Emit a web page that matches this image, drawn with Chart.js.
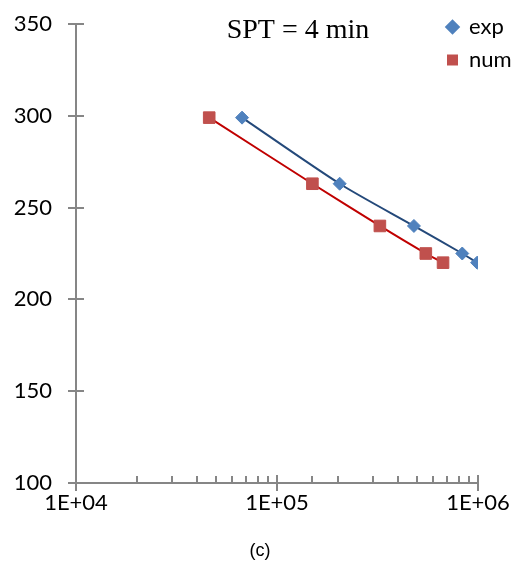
<!DOCTYPE html>
<html>
<head>
<meta charset="utf-8">
<script src="https://cdn.jsdelivr.net/npm/chart.js@4.4.1/dist/chart.umd.min.js"></script>
<style>
  html, body { margin: 0; padding: 0; background: #ffffff; }
  canvas { display: block; }
</style>
</head>
<body>
<canvas id="c" width="519" height="566"></canvas>
<script>
// ---- data ----
const expCycles = [67000, 205000, 480000, 835000, 990000];
const expStress = [299, 263, 240, 225, 220];
const numCycles = [46000, 150000, 325000, 550000, 670000];
const numStress = [299, 263, 240, 225, 220];
const seriesLabels = ['exp', 'num'];
const yTicks = [100, 150, 200, 250, 300, 350];
const xMajorTicks = [1e4, 1e5, 1e6];
const chartTitle = 'SPT = 4 min';
const caption = '(c)';

const AXIS = '#868686';
const FONT = 'Lato, "Open Sans", sans-serif';

function toPoints(xs, ys) { return xs.map((x, i) => ({ x: x, y: ys[i] })); }
function sciLabel(v) {
  const e = Math.round(Math.log10(v));
  return '1E+' + String(e).padStart(2, '0');
}
function isMajor(v) {
  const l = Math.log10(v);
  return Math.abs(l - Math.round(l)) < 1e-9;
}

const axisTicksPlugin = {
  id: 'axisTicks',
  beforeDatasetsDraw(chart) {
    const ctx = chart.ctx;
    const xs = chart.scales.x, ys = chart.scales.y;
    const area = chart.chartArea;
    ctx.save();
    ctx.strokeStyle = AXIS;
    ctx.lineWidth = 2;
    ctx.beginPath();
    xs.ticks.forEach(t => {
      const px = Math.round(xs.getPixelForValue(t.value));
      if (isMajor(t.value)) {
        ctx.moveTo(px, area.bottom - 8);
        ctx.lineTo(px, area.bottom + 8);
      } else {
        ctx.moveTo(px, area.bottom - 7);
        ctx.lineTo(px, area.bottom);
      }
    });
    ys.ticks.forEach(t => {
      const py = Math.round(ys.getPixelForValue(t.value));
      ctx.moveTo(area.left - 8, py);
      ctx.lineTo(area.left + 8, py);
    });
    ctx.stroke();
    ctx.restore();
  },
  afterDraw(chart) {
    const ctx = chart.ctx;
    ctx.save();
    ctx.fillStyle = '#000';
    ctx.textAlign = 'center';
    ctx.textBaseline = 'middle';
    ctx.font = '28px "Liberation Serif", "Times New Roman", serif';
    ctx.fillText(chartTitle, 298, 31);
    ctx.font = '18px Arial, "Liberation Sans", sans-serif';
    ctx.fillText(caption, 260, 551);
    ctx.restore();
  }
};

const legendShiftPlugin = {
  id: 'legendShift',
  afterLayout(chart) {
    const lg = chart.legend;
    if (!lg) return;
    const w = lg.right - lg.left;
    lg.left = 436;
    lg.right = 436 + w;
    const h = lg.bottom - lg.top;
    lg.top = 5;
    lg.bottom = 5 + h;
  }
};

new Chart(document.getElementById('c'), {
  type: 'scatter',
  data: {
    datasets: [
      {
        label: seriesLabels[0],
        data: toPoints(expCycles, expStress),
        showLine: true,
        borderColor: '#24497A',
        borderWidth: 2,
        tension: 0.25,
        pointStyle: 'rectRot',
        pointRadius: 6.5,
        pointHoverRadius: 6.5,
        pointBackgroundColor: '#4F81BD',
        pointBorderColor: '#4F81BD',
        pointBorderWidth: 1,
        backgroundColor: '#4F81BD'
      },
      {
        label: seriesLabels[1],
        data: toPoints(numCycles, numStress),
        showLine: true,
        borderColor: '#C00000',
        borderWidth: 2,
        tension: 0.25,
        pointStyle: 'rect',
        pointRadius: 8.2,
        pointHoverRadius: 8.2,
        pointBackgroundColor: '#C0504D',
        pointBorderColor: '#C0504D',
        pointBorderWidth: 1,
        backgroundColor: '#C0504D'
      }
    ]
  },
  options: {
    responsive: false,
    animation: false,
    events: [],
    layout: { padding: { left: 0, right: 41, top: 24, bottom: 0 } },
    plugins: {
      legend: {
        position: 'chartArea',
        align: 'start',
        labels: {
          usePointStyle: true,
          boxWidth: 11,
          boxHeight: 11,
          padding: 11,
          color: '#000',
          font: { family: FONT, size: 22 },
          generateLabels(chart) {
            return chart.data.datasets.map((ds, i) => ({
              text: ds.label,
              fillStyle: ds.pointBackgroundColor,
              strokeStyle: ds.pointBackgroundColor,
              lineWidth: 0,
              pointStyle: ds.pointStyle,
              hidden: false,
              datasetIndex: i,
              fontColor: '#000'
            }));
          }
        }
      },
      title: { display: false },
      tooltip: { enabled: false }
    },
    scales: {
      x: {
        type: 'logarithmic',
        min: xMajorTicks[0],
        max: xMajorTicks[xMajorTicks.length - 1],
        afterFit(scale) { scale.height = 83; scale.paddingTop = 0; },
        border: { display: true, color: AXIS, width: 2 },
        grid: { display: true, drawOnChartArea: false, drawTicks: false, tickLength: 0, color: 'rgba(0,0,0,0)' },
        ticks: {
          autoSkip: false,
          maxRotation: 0,
          minRotation: 0,
          padding: 7,
          color: '#000',
          font: { family: FONT, size: 22 },
          callback(v) { return xMajorTicks.some(m => Math.abs(m - v) < 1e-6 * m) ? sciLabel(v) : ''; }
        }
      },
      y: {
        type: 'linear',
        min: yTicks[0],
        max: yTicks[yTicks.length - 1],
        afterFit(scale) { scale.width = 76; scale.paddingTop = 0; scale.paddingBottom = 0; },
        afterBuildTicks(scale) { scale.ticks = yTicks.map(v => ({ value: v })); },
        border: { display: true, color: AXIS, width: 2 },
        grid: { display: true, drawOnChartArea: false, drawTicks: false, tickLength: 0, color: 'rgba(0,0,0,0)' },
        ticks: {
          padding: 24,
          color: '#000',
          font: { family: FONT, size: 22 }
        }
      }
    }
  },
  plugins: [axisTicksPlugin, legendShiftPlugin]
});
</script>
</body>
</html>
